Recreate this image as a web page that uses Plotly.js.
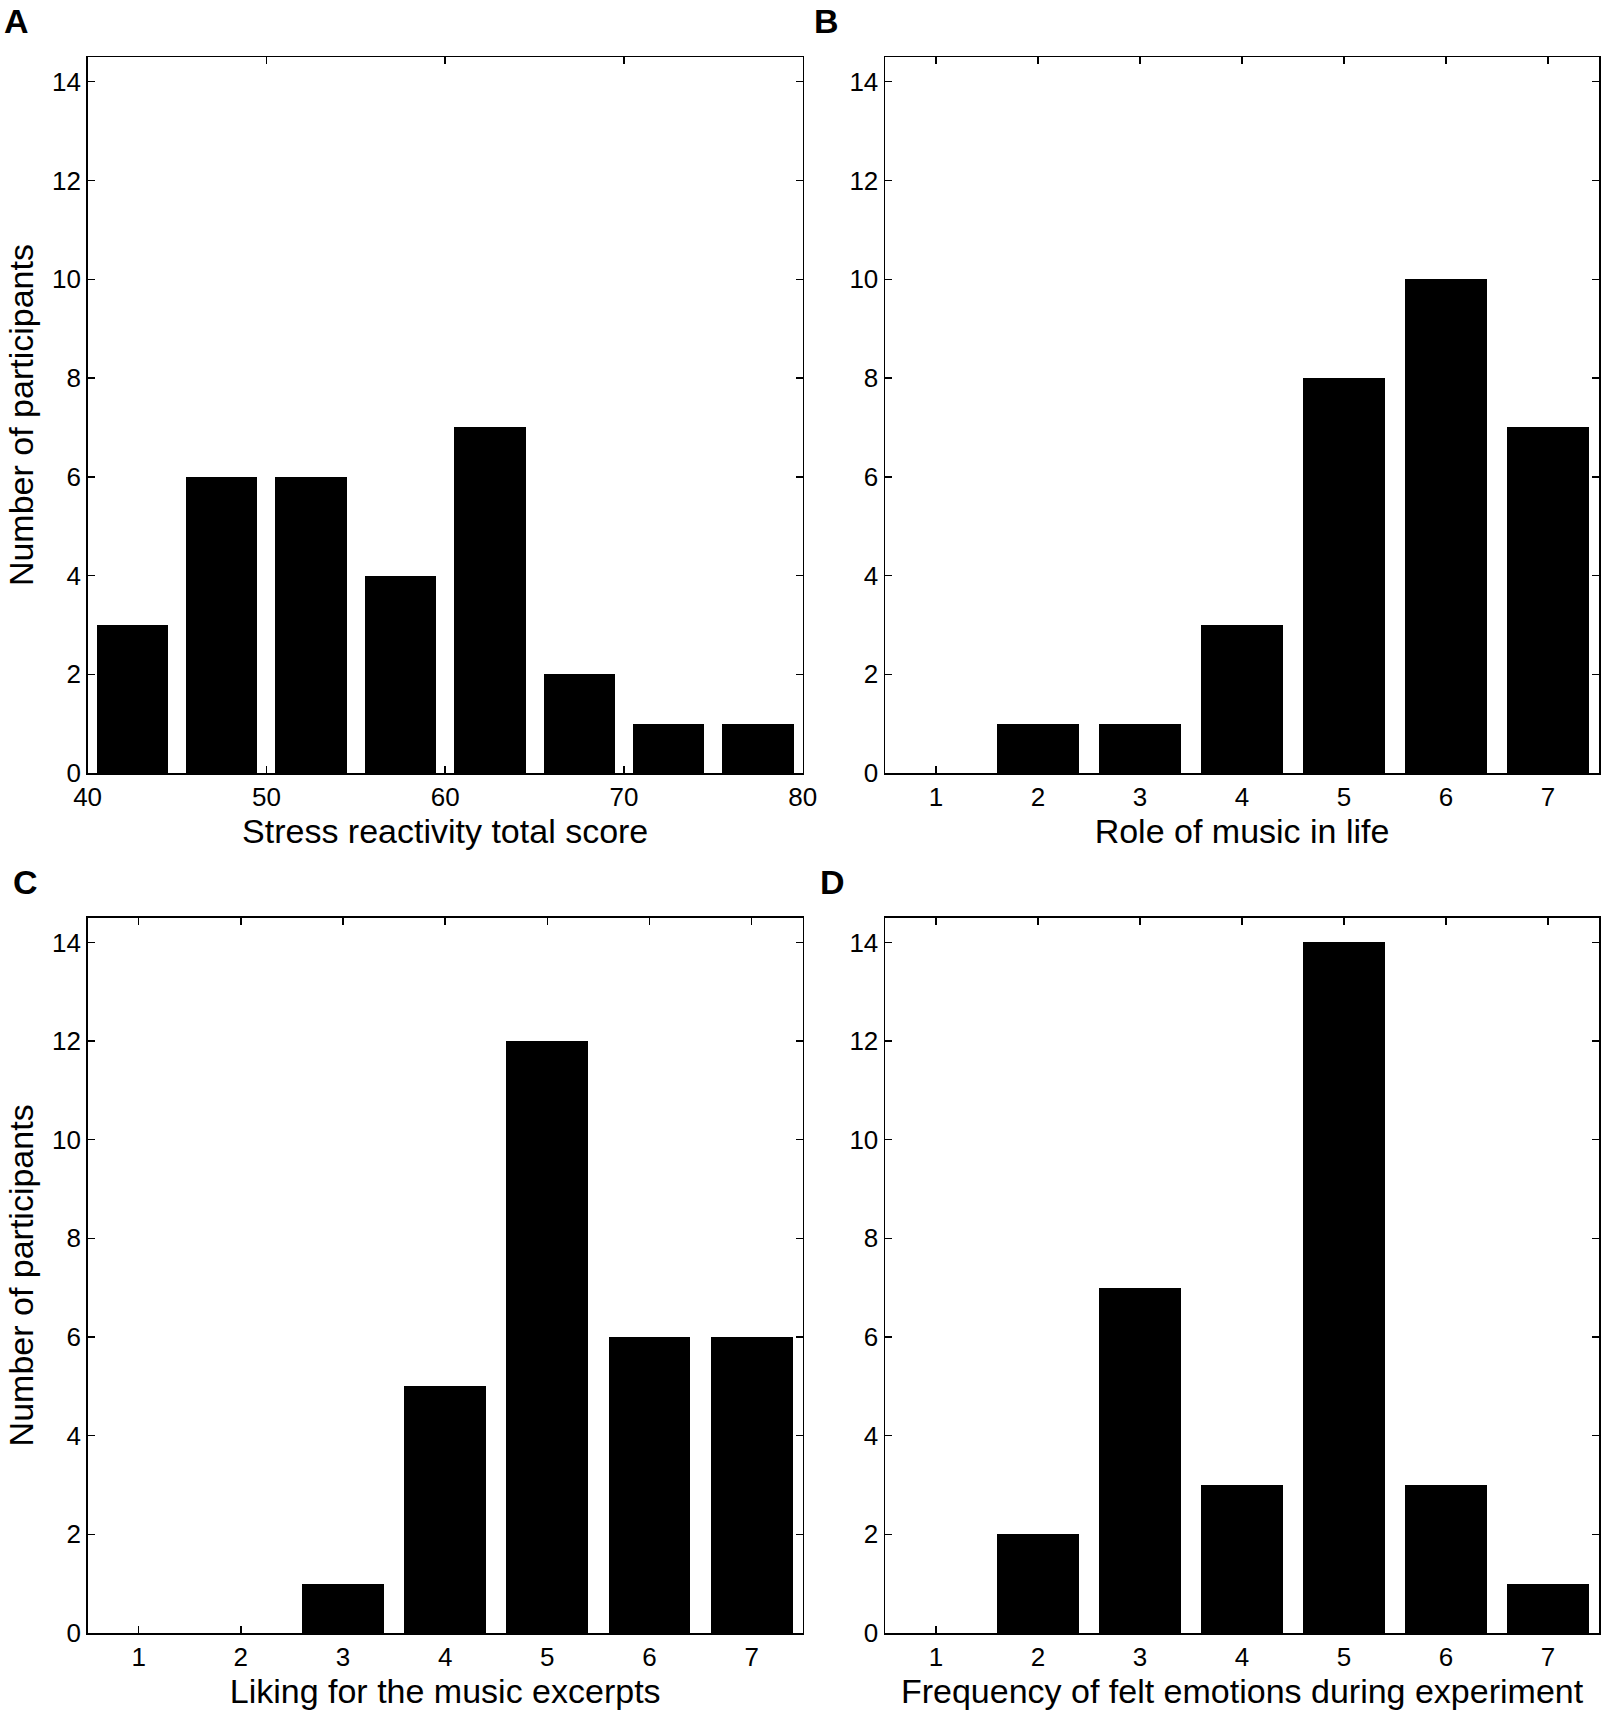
<!DOCTYPE html>
<html>
<head>
<meta charset="utf-8">
<script src="https://cdn.plot.ly/plotly-3.0.1.min.js"></script>
<style>
  html, body { margin: 0; padding: 0; background: #fff; }
  #chart { width: 1610px; height: 1717px; }
</style>
</head>
<body>
<div id="chart"></div>
<script>
// panel A: stress reactivity histogram (bin centres, counts)
const stressBins = [42.5, 47.5, 52.5, 57.5, 62.5, 67.5, 72.5, 77.5];
const stressCounts = [3, 6, 6, 4, 7, 2, 1, 1];

// panels B-D: 7-point rating scales
const ratingLevels = [1, 2, 3, 4, 5, 6, 7];
const roleOfMusic = [0, 1, 1, 3, 8, 10, 7];
const likingExcerpts = [0, 0, 1, 5, 12, 6, 6];
const feltEmotions = [0, 2, 7, 3, 14, 3, 1];

const panelLetters = ["A", "B", "C", "D"];
const xTitles = [
  "Stress reactivity total score",
  "Role of music in life",
  "Liking for the music excerpts",
  "Frequency of felt emotions during experiment"
];
const yTitle = "Number of participants";
const yTicks = [0, 2, 4, 6, 8, 10, 12, 14];

const FONT = "Liberation Sans, Arial, Helvetica, sans-serif";

function barTrace(x, y, w, axisIdx) {
  const suffix = axisIdx === 1 ? "" : String(axisIdx);
  return {
    type: "bar",
    x: x,
    y: y,
    width: w,
    marker: { color: "#000", line: { width: 0 } },
    xaxis: "x" + suffix,
    yaxis: "y" + suffix,
    hoverinfo: "x+y",
    showlegend: false
  };
}

const traces = [
  barTrace(stressBins, stressCounts, 4, 1),
  barTrace(ratingLevels, roleOfMusic, 0.8, 2),
  barTrace(ratingLevels, likingExcerpts, 0.8, 3),
  barTrace(ratingLevels, feltEmotions, 0.8, 4)
];

const colDomains = [[0.0544, 0.4986], [0.5497, 0.9932]];
const rowDomains = [[0.5497, 0.9668], [0.0489, 0.4655]];

function xAxis(i) {
  const base = {
    domain: colDomains[i % 2],
    anchor: i === 0 ? "y" : "y" + (i + 1),
    showline: true, mirror: "ticks",
    linecolor: "#000", linewidth: 1.5,
    ticks: "inside", ticklen: 7, tickwidth: 1.5, tickcolor: "#000",
    ticklabelstandoff: 0,
    showgrid: false, zeroline: false,
    tickfont: { family: FONT, size: 26, color: "#000" },
    title: { text: xTitles[i], font: { family: FONT, size: 34, color: "#000" }, standoff: 2 },
    fixedrange: true
  };
  if (i === 0) {
    return Object.assign(base, { range: [40, 80], tickvals: [40, 50, 60, 70, 80] });
  }
  return Object.assign(base, { range: [0.5, 7.5], tickvals: ratingLevels });
}

function yAxis(i) {
  return {
    domain: rowDomains[Math.floor(i / 2)],
    anchor: i === 0 ? "x" : "x" + (i + 1),
    range: [0, 14.5],
    tickvals: yTicks,
    showline: true, mirror: "ticks",
    linecolor: "#000", linewidth: 1.5,
    ticks: "inside", ticklen: 7, tickwidth: 1.5, tickcolor: "#000",
    showgrid: false, zeroline: false,
    tickfont: { family: FONT, size: 26, color: "#000" },
    title: {
      text: i % 2 === 0 ? yTitle : "",
      font: { family: FONT, size: 34, color: "#000" },
      standoff: 8
    },
    fixedrange: true
  };
}

const letterPos = [[16, 21], [826, 21], [25, 882], [832, 882]];
const annotations = panelLetters.map((t, i) => ({
  text: "<b>" + t + "</b>",
  xref: "paper", yref: "paper",
  x: letterPos[i][0] / 1610,
  y: 1 - letterPos[i][1] / 1717,
  xanchor: "center", yanchor: "middle",
  showarrow: false,
  font: { family: FONT, size: 34, color: "#000" }
}));

const layout = {
  width: 1610,
  height: 1717,
  paper_bgcolor: "#fff",
  plot_bgcolor: "#fff",
  margin: { t: 0, r: 0, b: 0, l: 0 },
  bargap: 0,
  annotations: annotations
};
for (let i = 0; i < 4; i++) {
  const s = i === 0 ? "" : String(i + 1);
  layout["xaxis" + s] = xAxis(i);
  layout["yaxis" + s] = yAxis(i);
}

Plotly.newPlot("chart", traces, layout, { displayModeBar: false, staticPlot: true });
</script>
</body>
</html>
